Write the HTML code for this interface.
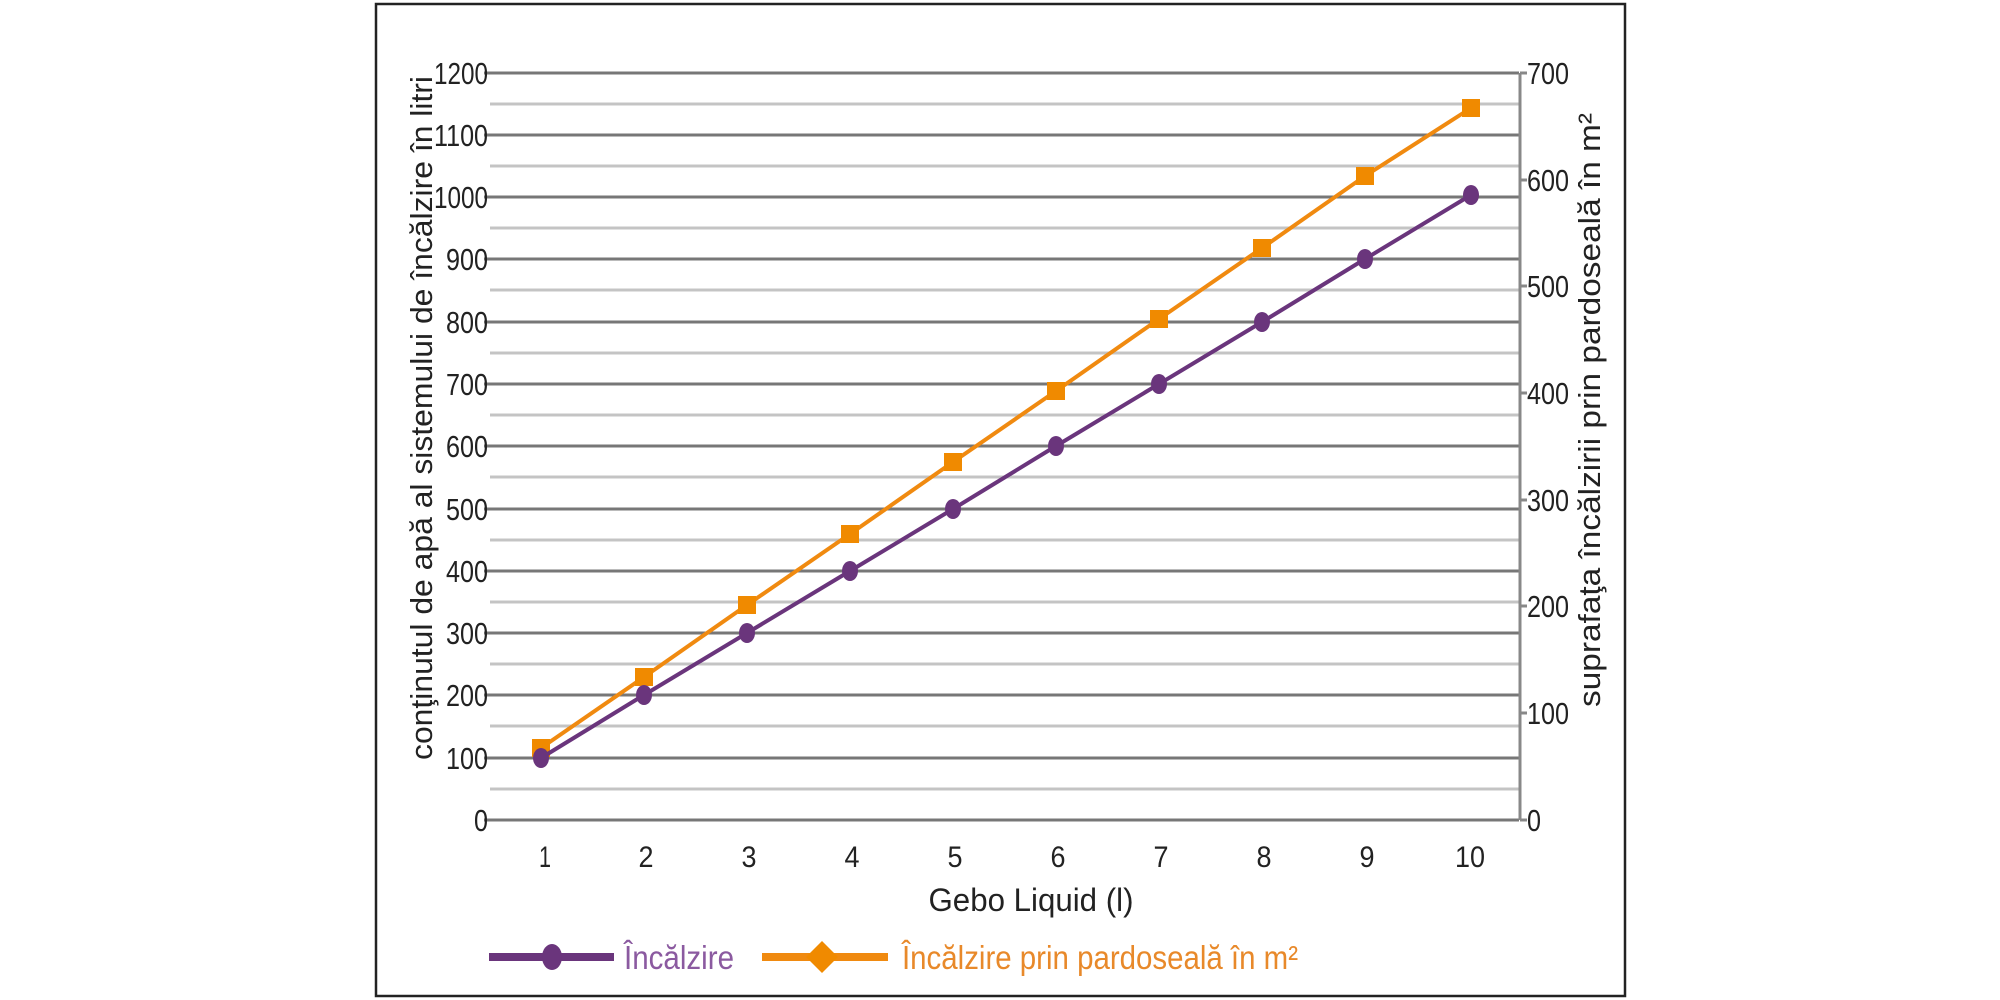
<!DOCTYPE html>
<html><head><meta charset="utf-8"><style>
html,body{margin:0;padding:0;background:#fff;}
svg{display:block;}
text{font-family:"Liberation Sans",sans-serif;fill:#222;}
</style></head><body>
<svg width="2000" height="1000" viewBox="0 0 2000 1000" xmlns="http://www.w3.org/2000/svg">
<rect x="0" y="0" width="2000" height="1000" fill="#fff"/>
<rect x="376" y="4" width="1249" height="992" fill="none" stroke="#222" stroke-width="2.5"/>
<g stroke="#c4c4c4" stroke-width="3">
<line x1="490" y1="104" x2="1519" y2="104"/><line x1="490" y1="166" x2="1519" y2="166"/>
<line x1="490" y1="228" x2="1519" y2="228"/><line x1="490" y1="290" x2="1519" y2="290"/>
<line x1="490" y1="353" x2="1519" y2="353"/><line x1="490" y1="415" x2="1519" y2="415"/>
<line x1="490" y1="477" x2="1519" y2="477"/><line x1="490" y1="540" x2="1519" y2="540"/>
<line x1="490" y1="602" x2="1519" y2="602"/><line x1="490" y1="664" x2="1519" y2="664"/>
<line x1="490" y1="726" x2="1519" y2="726"/><line x1="490" y1="789" x2="1519" y2="789"/>
</g>
<g stroke="#777" stroke-width="3">
<line x1="484" y1="73" x2="1519" y2="73"/><line x1="484" y1="135" x2="1519" y2="135"/>
<line x1="484" y1="197" x2="1519" y2="197"/><line x1="484" y1="259" x2="1519" y2="259"/>
<line x1="484" y1="322" x2="1519" y2="322"/><line x1="484" y1="384" x2="1519" y2="384"/>
<line x1="484" y1="446" x2="1519" y2="446"/><line x1="484" y1="509" x2="1519" y2="509"/>
<line x1="484" y1="571" x2="1519" y2="571"/><line x1="484" y1="633" x2="1519" y2="633"/>
<line x1="484" y1="695" x2="1519" y2="695"/><line x1="484" y1="758" x2="1519" y2="758"/>
<line x1="484" y1="820" x2="1519" y2="820"/>
</g>
<g stroke="#888" stroke-width="3">
<line x1="1520" y1="73" x2="1520" y2="820"/>
<line x1="1520" y1="73" x2="1527" y2="73"/><line x1="1520" y1="180" x2="1527" y2="180"/>
<line x1="1520" y1="286" x2="1527" y2="286"/><line x1="1520" y1="393" x2="1527" y2="393"/>
<line x1="1520" y1="500" x2="1527" y2="500"/><line x1="1520" y1="606" x2="1527" y2="606"/>
<line x1="1520" y1="713" x2="1527" y2="713"/><line x1="1520" y1="820" x2="1527" y2="820"/>
</g>
<g font-size="31" text-anchor="end">
<text x="488" y="84" textLength="54" lengthAdjust="spacingAndGlyphs">1200</text>
<text x="488" y="146" textLength="54" lengthAdjust="spacingAndGlyphs">1100</text>
<text x="488" y="208" textLength="54" lengthAdjust="spacingAndGlyphs">1000</text>
<text x="488" y="270" textLength="42" lengthAdjust="spacingAndGlyphs">900</text>
<text x="488" y="333" textLength="42" lengthAdjust="spacingAndGlyphs">800</text>
<text x="488" y="395" textLength="42" lengthAdjust="spacingAndGlyphs">700</text>
<text x="488" y="457" textLength="42" lengthAdjust="spacingAndGlyphs">600</text>
<text x="488" y="520" textLength="42" lengthAdjust="spacingAndGlyphs">500</text>
<text x="488" y="582" textLength="42" lengthAdjust="spacingAndGlyphs">400</text>
<text x="488" y="644" textLength="42" lengthAdjust="spacingAndGlyphs">300</text>
<text x="488" y="706" textLength="42" lengthAdjust="spacingAndGlyphs">200</text>
<text x="488" y="769" textLength="42" lengthAdjust="spacingAndGlyphs">100</text>
<text x="488" y="831" textLength="14" lengthAdjust="spacingAndGlyphs">0</text>
</g>
<g font-size="31">
<text x="1527" y="84" textLength="42" lengthAdjust="spacingAndGlyphs">700</text>
<text x="1527" y="191" textLength="42" lengthAdjust="spacingAndGlyphs">600</text>
<text x="1527" y="297" textLength="42" lengthAdjust="spacingAndGlyphs">500</text>
<text x="1527" y="404" textLength="42" lengthAdjust="spacingAndGlyphs">400</text>
<text x="1527" y="511" textLength="42" lengthAdjust="spacingAndGlyphs">300</text>
<text x="1527" y="617" textLength="42" lengthAdjust="spacingAndGlyphs">200</text>
<text x="1527" y="724" textLength="42" lengthAdjust="spacingAndGlyphs">100</text>
<text x="1527" y="831" textLength="14" lengthAdjust="spacingAndGlyphs">0</text>
</g>
<g font-size="30" text-anchor="middle">
<text x="545" y="867" textLength="12" lengthAdjust="spacingAndGlyphs">1</text><text x="646" y="867" textLength="15" lengthAdjust="spacingAndGlyphs">2</text><text x="749" y="867" textLength="15" lengthAdjust="spacingAndGlyphs">3</text>
<text x="852" y="867" textLength="15" lengthAdjust="spacingAndGlyphs">4</text><text x="955" y="867" textLength="15" lengthAdjust="spacingAndGlyphs">5</text><text x="1058" y="867" textLength="15" lengthAdjust="spacingAndGlyphs">6</text>
<text x="1161" y="867" textLength="15" lengthAdjust="spacingAndGlyphs">7</text><text x="1264" y="867" textLength="15" lengthAdjust="spacingAndGlyphs">8</text><text x="1367" y="867" textLength="15" lengthAdjust="spacingAndGlyphs">9</text>
<text x="1470" y="867" textLength="30" lengthAdjust="spacingAndGlyphs">10</text>
</g>
<text x="1031" y="911" font-size="32" text-anchor="middle" textLength="205" lengthAdjust="spacingAndGlyphs">Gebo Liquid (l)</text>
<text transform="translate(432,418) rotate(-90)" font-size="31" text-anchor="middle" textLength="684" lengthAdjust="spacingAndGlyphs">conţinutul de apă al sistemului de încălzire în litri</text>
<text transform="translate(1600,410) rotate(-90)" font-size="31" text-anchor="middle" textLength="594" lengthAdjust="spacingAndGlyphs">suprafaţa încălzirii prin pardoseală în m²</text>
<polyline fill="none" stroke="#f08a10" stroke-width="4" points="541,748 644,677 747,605 850,534 953,462 1056,391 1159,319 1262,248 1365,176 1471,108"/>
<g fill="#f08a00">
<rect x="532" y="739" width="18" height="18"/><rect x="635" y="668" width="18" height="18"/>
<rect x="738" y="596" width="18" height="18"/><rect x="841" y="525" width="18" height="18"/>
<rect x="944" y="453" width="18" height="18"/><rect x="1047" y="382" width="18" height="18"/>
<rect x="1150" y="310" width="18" height="18"/><rect x="1253" y="239" width="18" height="18"/>
<rect x="1356" y="167" width="18" height="18"/><rect x="1462" y="99" width="18" height="18"/>
</g>
<polyline fill="none" stroke="#6a357c" stroke-width="4" points="541,758 644,695 747,633 850,571 953,509 1056,446 1159,384 1262,322 1365,259 1471,195"/>
<g fill="#6a357c">
<ellipse cx="541" cy="758" rx="8" ry="10"/><ellipse cx="644" cy="695" rx="8" ry="10"/>
<ellipse cx="747" cy="633" rx="8" ry="10"/><ellipse cx="850" cy="571" rx="8" ry="10"/>
<ellipse cx="953" cy="509" rx="8" ry="10"/><ellipse cx="1056" cy="446" rx="8" ry="10"/>
<ellipse cx="1159" cy="384" rx="8" ry="10"/><ellipse cx="1262" cy="322" rx="8" ry="10"/>
<ellipse cx="1365" cy="259" rx="8" ry="10"/><ellipse cx="1471" cy="195" rx="8" ry="10"/>
</g>
<line x1="489" y1="957" x2="614" y2="957" stroke="#6a357c" stroke-width="8"/>
<ellipse cx="552" cy="957" rx="10" ry="13" fill="#6a357c"/>
<text x="624" y="969" font-size="33" style="fill:#8b5aa0" textLength="110" lengthAdjust="spacingAndGlyphs">Încălzire</text>
<line x1="762" y1="957" x2="888" y2="957" stroke="#f08a10" stroke-width="8"/>
<polygon points="822,941 838,957 822,973 806,957" fill="#f08a00"/>
<text x="902" y="969" font-size="33" style="fill:#e8892a" textLength="396" lengthAdjust="spacingAndGlyphs">Încălzire prin pardoseală în m²</text>
</svg>
</body></html>
